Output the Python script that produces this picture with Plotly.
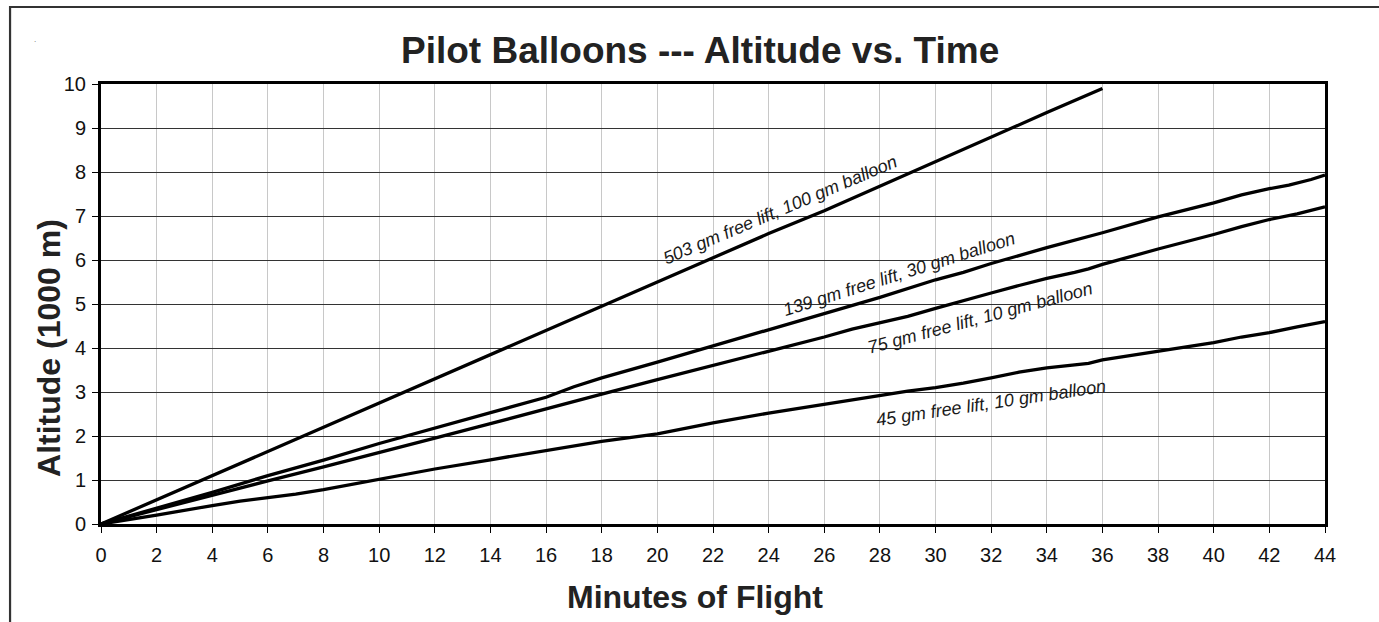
import plotly.graph_objects as go

# ---- data (minutes, altitude in 1000 m) ----
t_503 = [0, 2, 4, 6, 8, 10, 12, 14, 16, 18, 20, 22, 24, 26, 28, 30, 32, 34, 36]
alt_503 = [0, 0.55, 1.1, 1.65, 2.2, 2.75, 3.3, 3.85, 4.4, 4.95, 5.5, 6.05, 6.6, 7.12, 7.68, 8.25, 8.8, 9.35, 9.9]

t_139 = [0, 2, 4, 6, 8, 10, 12, 14, 16, 17, 18, 20, 22, 24, 26, 28, 30, 31, 32, 34, 36, 38, 40, 41, 42, 42.7, 43.5, 44]
alt_139 = [0, 0.36, 0.72, 1.1, 1.45, 1.83, 2.18, 2.52, 2.88, 3.12, 3.32, 3.68, 4.05, 4.42, 4.78, 5.15, 5.55, 5.72,
           5.92, 6.28, 6.62, 6.98, 7.3, 7.48, 7.62, 7.7, 7.83, 7.93]

t_75 = [0, 2, 4, 6, 8, 10, 12, 14, 16, 18, 20, 22, 24, 26, 27, 28, 29, 30, 31, 32, 33, 34, 35, 35.5, 36, 38, 40,
        41, 42, 43, 44]
alt_75 = [0, 0.33, 0.66, 0.98, 1.3, 1.62, 1.95, 2.28, 2.62, 2.95, 3.28, 3.6, 3.93, 4.25, 4.43, 4.57, 4.72, 4.9,
          5.08, 5.25, 5.42, 5.58, 5.72, 5.8, 5.9, 6.25, 6.58, 6.76, 6.92, 7.05, 7.21]

t_45 = [0, 2, 4, 5, 6, 7, 8, 10, 12, 14, 16, 17, 18, 20, 22, 24, 26, 28, 29, 30, 31, 32, 33, 34, 35, 35.5, 36, 38,
        40, 41, 42, 43, 44]
alt_45 = [0, 0.2, 0.42, 0.52, 0.6, 0.68, 0.78, 1.02, 1.25, 1.46, 1.67, 1.78, 1.88, 2.05, 2.3, 2.52, 2.72, 2.92,
          3.02, 3.1, 3.2, 3.32, 3.45, 3.55, 3.62, 3.65, 3.73, 3.92, 4.12, 4.25, 4.35, 4.48, 4.6]

series_names = ["503 gm free lift, 100 gm balloon", "139 gm free lift, 30 gm balloon",
                "75 gm free lift, 10 gm balloon", "45 gm free lift, 10 gm balloon"]
label_x = [24.4, 28.7, 31.6, 32.0]
label_y = [7.14, 5.68, 4.68, 2.75]
label_angle = [-23, -17.5, -15, -8.5]

x_ticks = list(range(0, 45, 2))
y_ticks = list(range(0, 11, 1))

title_text = "Pilot Balloons --- Altitude vs. Time"
x_title = "Minutes of Flight"
y_title = "Altitude (1000 m)"

fig = go.Figure()
for tt, aa, nm in zip([t_503, t_139, t_75, t_45], [alt_503, alt_139, alt_75, alt_45], series_names):
    fig.add_trace(go.Scatter(x=tt, y=aa, mode="lines", name=nm,
                             line=dict(color="black", width=3.3), showlegend=False))

for nm, lx, ly, la in zip(series_names, label_x, label_y, label_angle):
    fig.add_annotation(x=lx, y=ly, xref="x", yref="y", text="<i>" + nm + "</i>", showarrow=False,
                       textangle=la, font=dict(family="Liberation Sans, Arial", size=18, color="#1a1a1a"))

font_main = "Liberation Sans, Arial, sans-serif"
fig.add_annotation(x=0.489, y=1.077, xref="paper", yref="paper", text="<b>" + title_text + "</b>",
                   showarrow=False, xanchor="center", yanchor="middle",
                   font=dict(family=font_main, size=37, color="#222"))
fig.add_annotation(x=0.485, y=-0.166, xref="paper", yref="paper", text="<b>" + x_title + "</b>",
                   showarrow=False, xanchor="center", yanchor="middle",
                   font=dict(family=font_main, size=32, color="#222"))
fig.add_annotation(x=-0.0425, y=0.40, xref="paper", yref="paper", text="<b>" + y_title + "</b>",
                   showarrow=False, xanchor="center", yanchor="middle", textangle=-90,
                   font=dict(family=font_main, size=32, color="#222"))
# tiny stray dot near top-left of the frame
fig.add_annotation(x=-0.056, y=1.115, xref="paper", yref="paper", text=".", showarrow=False,
                   font=dict(family=font_main, size=8, color="#666"))

# outer frame
fig.add_shape(type="rect", xref="paper", yref="paper", x0=-0.0743, x1=1.2, y0=-0.4, y1=1.175,
              line=dict(color="#333", width=2.2), fillcolor="rgba(0,0,0,0)")

fig.update_layout(
    width=1379, height=622,
    margin=dict(l=101, r=54, t=84, b=98),
    paper_bgcolor="white", plot_bgcolor="white",
    font=dict(family=font_main, size=20, color="#111"),
)
fig.update_xaxes(range=[0, 44], tickvals=x_ticks, showline=True, mirror=True, linecolor="black",
                 linewidth=3, ticks="outside", ticklen=6, tickwidth=1, tickcolor="black",
                 showgrid=True, gridcolor="#c8c8c8", gridwidth=1, zeroline=False,
                 ticklabelstandoff=5)
fig.update_yaxes(range=[0, 10], tickvals=y_ticks, showline=True, mirror=True, linecolor="black",
                 linewidth=3, ticks="outside", ticklen=6, tickwidth=1, tickcolor="black",
                 showgrid=True, gridcolor="#333", gridwidth=1, zeroline=False,
                 ticklabelstandoff=2)

fig.write_html("out.html", config={"displayModeBar": False},
               post_script="document.body.style.margin='0';document.body.style.overflow='hidden';")
